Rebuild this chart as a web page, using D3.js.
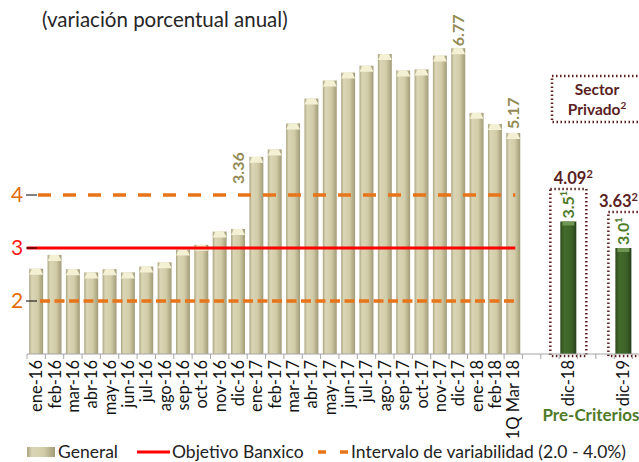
<!DOCTYPE html>
<html>
<head>
<meta charset="utf-8">
<script src="https://cdn.jsdelivr.net/npm/d3@7"></script>
<style>
  body { margin: 0; background: #fff; }
  text { font-family: Lato, "Open Sans", sans-serif; }
</style>
</head>
<body>
<div id="chart"></div>
<script>
// inflation data (annual % change)
var months = ['ene-16','feb-16','mar-16','abr-16','may-16','jun-16','jul-16','ago-16','sep-16','oct-16','nov-16','dic-16',
  'ene-17','feb-17','mar-17','abr-17','may-17','jun-17','jul-17','ago-17','sep-17','oct-17','nov-17','dic-17',
  'ene-18','feb-18','1Q Mar 18'];
var general = [2.61,2.87,2.60,2.54,2.60,2.54,2.65,2.73,2.97,3.06,3.31,3.36,
  4.72,4.86,5.35,5.82,6.16,6.31,6.44,6.66,6.35,6.37,6.63,6.77,
  5.55,5.34,5.17];
var labelled = ['dic-16','dic-17','1Q Mar 18'];
var labelGap = [45, 2, 4];
var extraCats = ['_1','_2','dic-18','_3','_4','dic-19','_5'];
var preCat = ['dic-18','dic-19'];
var preVal = [3.5, 3.0];
var preText = ['3.5','3.0'];
var privado = ['4.09','3.63'];
var yTicks = [2, 3, 4];
var objetivo = 3;
var intervalo = [2, 4];

var width = 639, height = 462;
var svg = d3.select('#chart').append('svg')
  .attr('width', width).attr('height', height);

var cats = months.concat(extraCats);
var x = d3.scaleBand().domain(cats).range([27, 27 + cats.length * 18.35]).paddingInner(0.24).paddingOuter(0.12);
var y = d3.scaleLinear().domain([1, 7]).range([354, 36]);

var defs = svg.append('defs');
var g1 = defs.append('linearGradient').attr('id', 'beige');
g1.append('stop').attr('offset', '0%').attr('stop-color', '#aaa37f');
g1.append('stop').attr('offset', '18%').attr('stop-color', '#dad5b5');
g1.append('stop').attr('offset', '60%').attr('stop-color', '#d2cca9');
g1.append('stop').attr('offset', '100%').attr('stop-color', '#a29b78');
var g2 = defs.append('linearGradient').attr('id', 'green');
g2.append('stop').attr('offset', '0%').attr('stop-color', '#2c4a1c');
g2.append('stop').attr('offset', '25%').attr('stop-color', '#436b2c');
g2.append('stop').attr('offset', '70%').attr('stop-color', '#3d6127');
g2.append('stop').attr('offset', '100%').attr('stop-color', '#26401a');

// title
svg.append('text').attr('x', 42).attr('y', 27)
  .attr('font-size', 20.5).attr('fill', '#262626')
  .text('(variación porcentual anual)');

// general bars
var bars = svg.selectAll('.bar').data(months).enter().append('g');
bars.append('rect')
  .attr('x', function(d) { return x(d); })
  .attr('y', function(d, i) { return y(general[i]); })
  .attr('width', x.bandwidth())
  .attr('height', function(d, i) { return y(1) - y(general[i]); })
  .attr('fill', 'url(#beige)');
bars.append('path')
  .attr('d', function(d, i) {
    var x0 = x(d), w = x.bandwidth(), t = y(general[i]);
    return 'M' + x0 + ',' + (t + 6) + 'L' + (x0 + 3) + ',' + t + 'L' + (x0 + w - 3) + ',' + t + 'L' + (x0 + w) + ',' + (t + 6) + 'Z';
  })
  .attr('fill', '#f4f0d4');

// value labels
labelled.forEach(function(m, k) {
  var i = months.indexOf(m);
  var cx = x(m) + x.bandwidth() / 2;
  svg.append('text')
    .attr('transform', 'translate(' + (cx + 6) + ',' + (y(general[i]) - labelGap[k]) + ') rotate(-90)')
    .attr('font-size', 16).attr('font-weight', 'bold').attr('fill', '#948a54')
    .text(general[i].toFixed(2));
});

// pre-criterios bars
var gw = 16;
preCat.forEach(function(c, i) {
  var cx = x(c) + x.bandwidth() / 2;
  svg.append('rect').attr('x', cx - gw / 2).attr('y', y(preVal[i]))
    .attr('width', gw).attr('height', y(1) - y(preVal[i]))
    .attr('fill', 'url(#green)');
  svg.append('rect').attr('x', cx - gw / 2 + 2).attr('y', y(preVal[i]))
    .attr('width', gw - 4).attr('height', 4).attr('fill', '#6f9552');
  var t = svg.append('text')
    .attr('transform', 'translate(' + (cx + 6) + ',' + (y(preVal[i]) - 3) + ') rotate(-90)')
    .attr('font-size', 16).attr('font-weight', 'bold').attr('fill', '#4f7a28');
  t.append('tspan').text(preText[i]);
  t.append('tspan').attr('font-size', 9).attr('dy', -7).text('1');
});

// dotted boxes (sector privado)
var boxTop = [189, 212];
var boxW = [36, 32];
preCat.forEach(function(c, i) {
  var cx = x(c) + x.bandwidth() / 2;
  var x0 = cx - (i == 0 ? 18 : 15);
  svg.append('rect').attr('x', x0).attr('y', boxTop[i])
    .attr('width', boxW[i]).attr('height', 356 - boxTop[i])
    .attr('fill', 'none').attr('stroke', '#5a1f1f').attr('stroke-width', 2.5)
    .attr('stroke-dasharray', '1.5,2.5');
  var t = svg.append('text').attr('x', i == 0 ? cx + 5 : 638).attr('y', boxTop[i] - 5)
    .attr('text-anchor', i == 0 ? 'middle' : 'end').attr('font-size', 16.5).attr('font-weight', 'bold').attr('fill', '#5a1f1f');
  t.append('tspan').text(privado[i]);
  t.append('tspan').attr('font-size', 11).attr('dy', -6).text('2');
});

svg.append('rect').attr('x', 552).attr('y', 76).attr('width', 100).attr('height', 46)
  .attr('fill', 'none').attr('stroke', '#5a1f1f').attr('stroke-width', 2.5)
  .attr('stroke-dasharray', '1.5,2.5');
svg.append('text').attr('x', 597).attr('y', 95).attr('text-anchor', 'middle')
  .attr('font-size', 15.5).attr('font-weight', 'bold').attr('fill', '#5a1f1f').text('Sector');
var pv = svg.append('text').attr('x', 597).attr('y', 115).attr('text-anchor', 'middle')
  .attr('font-size', 15.5).attr('font-weight', 'bold').attr('fill', '#5a1f1f');
pv.append('tspan').text('Privado');
pv.append('tspan').attr('font-size', 10).attr('dy', -6).text('2');

// reference lines
var lastX = x(months[months.length - 1]) + x.bandwidth() / 2 + 2;
svg.append('line').attr('x1', 27).attr('x2', lastX)
  .attr('y1', y(objetivo)).attr('y2', y(objetivo))
  .attr('stroke', '#ff0000').attr('stroke-width', 3);
svg.append('line').attr('x1', 38).attr('x2', lastX)
  .attr('y1', y(intervalo[1])).attr('y2', y(intervalo[1]))
  .attr('stroke', '#e8741a').attr('stroke-width', 3.5).attr('stroke-dasharray', '13,12');
svg.append('line').attr('x1', 40).attr('x2', lastX)
  .attr('y1', y(intervalo[0])).attr('y2', y(intervalo[0]))
  .attr('stroke', '#e8741a').attr('stroke-width', 3.5).attr('stroke-dasharray', '10,4.5');

// y ticks
var tickColor = { 2: '#e46c0a', 3: '#ff1a1a', 4: '#e46c0a' };
yTicks.forEach(function(v) {
  svg.append('line').attr('x1', 26).attr('x2', 37).attr('y1', y(v)).attr('y2', y(v))
    .attr('stroke', '#000').attr('stroke-width', 1);
  svg.append('text').attr('x', 17).attr('y', y(v) + 7).attr('text-anchor', 'middle')
    .attr('font-size', 21).attr('fill', tickColor[v]).text(v);
});

// x axis
var xAxis = svg.append('g').attr('transform', 'translate(0,' + y(1) + ')');
xAxis.append('line').attr('x1', 27).attr('x2', width).attr('stroke', '#a6a6a6').attr('stroke-width', 1.2);
var step = x.step();
d3.range(cats.length + 1).forEach(function(i) {
  var tx = 27 + i * step;
  xAxis.append('line').attr('x1', tx).attr('x2', tx).attr('y1', 0).attr('y2', 5)
    .attr('stroke', '#a6a6a6');
});
cats.forEach(function(c) {
  if (c.charAt(0) == '_') return;
  var cx = x(c) + x.bandwidth() / 2;
  xAxis.append('text')
    .attr('transform', 'translate(' + (cx + 6) + ',6) rotate(-90)')
    .attr('text-anchor', 'end').attr('font-size', 16.5).attr('fill', '#111')
    .text(c);
});

svg.append('text').attr('x', 591).attr('y', 421).attr('text-anchor', 'middle')
  .attr('font-size', 17).attr('font-weight', 'bold').attr('fill', '#4f7a28').text('Pre-Criterios');

// legend
var ly = 452;
svg.append('rect').attr('x', 27).attr('y', ly - 5).attr('width', 28).attr('height', 10).attr('fill', 'url(#beige)');
svg.append('text').attr('x', 58).attr('y', ly + 6).attr('font-size', 17.5).attr('fill', '#222').text('General');
svg.append('line').attr('x1', 137).attr('x2', 170).attr('y1', ly).attr('y2', ly)
  .attr('stroke', '#ff0000').attr('stroke-width', 3);
svg.append('text').attr('x', 172).attr('y', ly + 6).attr('font-size', 17.5).attr('fill', '#222').text('Objetivo Banxico');
svg.append('line').attr('x1', 318).attr('x2', 350).attr('y1', ly).attr('y2', ly)
  .attr('stroke', '#e8741a').attr('stroke-width', 3.5).attr('stroke-dasharray', '8,14');
svg.append('text').attr('x', 351).attr('y', ly + 6).attr('font-size', 17.5).attr('fill', '#222').text('Intervalo de variabilidad (2.0 - 4.0%)');
</script>
</body>
</html>
